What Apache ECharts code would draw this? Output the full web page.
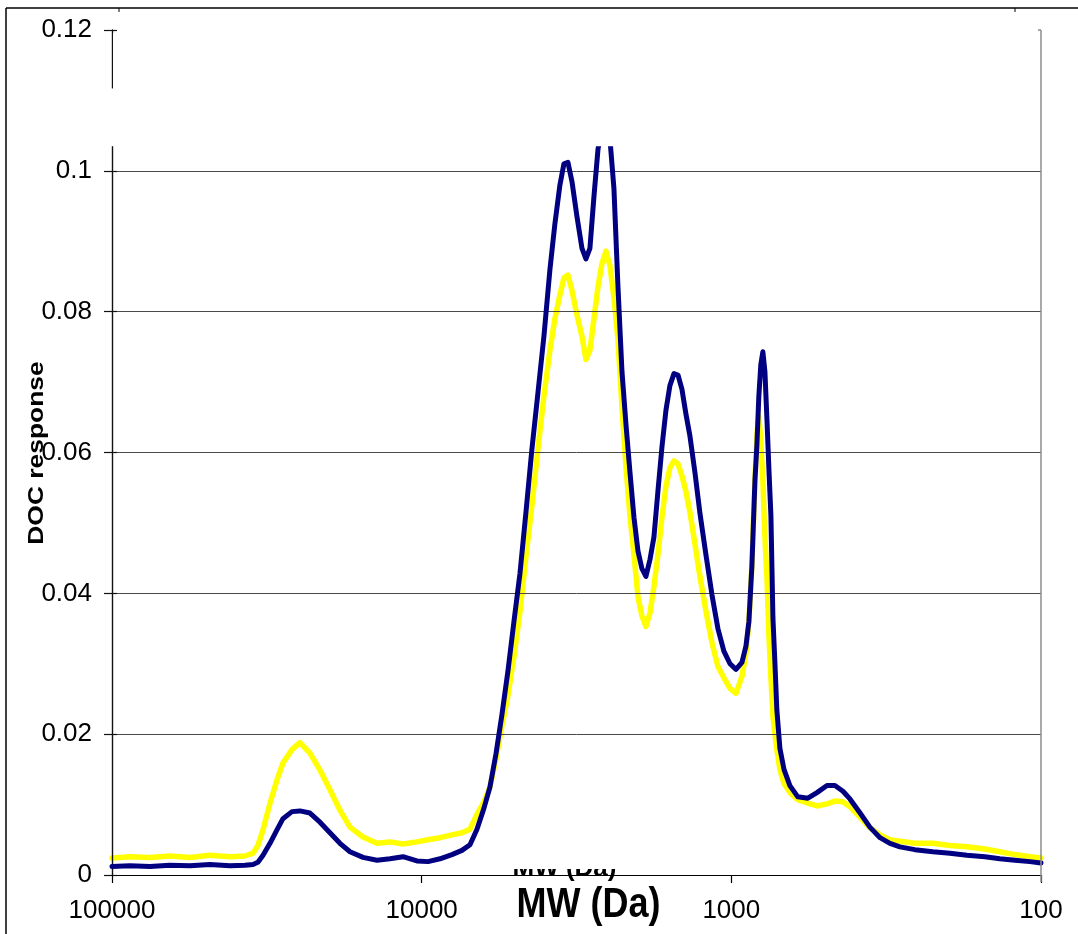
<!DOCTYPE html>
<html>
<head>
<meta charset="utf-8">
<script src="https://cdn.jsdelivr.net/npm/echarts@6/dist/echarts.min.js"></script>
<style>
  html, body { margin: 0; padding: 0; background: #fff; }
  #chart { width: 1078px; height: 934px; }
</style>
</head>
<body>
<div id="chart"></div>
<script>
// Molecular weight (Da) sample positions, high to low
const mw = [
  100000, 87500, 75400, 65000, 56000, 48300, 41600, 37200, 35050, 33790,
  32530, 30890, 29330, 28050, 26230, 24720, 22950, 21300, 19780, 18360,
  17040, 15470, 13940, 12660, 11490, 10360, 9543, 8728, 7986, 7412,
  6982, 6628, 6292, 6018, 5755, 5504, 5264, 5035, 4815, 4605,
  4405, 4212, 4029, 3853, 3713, 3577, 3472, 3370, 3271, 3151,
  3036, 2948, 2862, 2777, 2696, 2617, 2540, 2466, 2394, 2323,
  2255, 2189, 2125, 2063, 2002, 1944, 1887, 1831, 1778, 1726,
  1675, 1626, 1579, 1532, 1487, 1444, 1402, 1360, 1311, 1264,
  1208, 1155, 1105, 1057, 1010, 966, 924, 897, 877.5, 858,
  839, 827, 815, 803, 791, 779, 767, 756, 745, 734,
  723, 713, 697, 676, 647, 610, 566, 529, 491, 463,
  436, 414, 384, 357, 331, 307.5, 285.5, 255.4, 223.4, 196.9,
  173.5, 151.7, 135.8, 121.4, 108.6, 100
];

// DOC response, navy trace
const responseNavy = [
  0.0012, 0.0013, 0.0012, 0.0014, 0.0013, 0.0015, 0.0013, 0.0014, 0.0015, 0.0018,
  0.0028, 0.0045, 0.0064, 0.0080, 0.0090, 0.0091, 0.0088, 0.0075, 0.0060, 0.0045,
  0.0033, 0.0025, 0.0021, 0.0023, 0.0026, 0.0020, 0.0019, 0.0023, 0.0029, 0.0035,
  0.0043, 0.0065, 0.0095, 0.0125, 0.0172, 0.0228, 0.0290, 0.0360, 0.0428, 0.0515,
  0.0605, 0.0685, 0.0765, 0.0860, 0.0925, 0.0980, 0.1010, 0.1012, 0.0985, 0.0935,
  0.0890, 0.0875, 0.0890, 0.0964, 0.1030, 0.1065, 0.1070, 0.1045, 0.0975, 0.0835,
  0.0715, 0.0640, 0.0572, 0.0508, 0.0460, 0.0435, 0.0424, 0.0448, 0.0480, 0.0545,
  0.0608, 0.0660, 0.0695, 0.0712, 0.0710, 0.0690, 0.0655, 0.0623, 0.0572, 0.0515,
  0.0455, 0.0398, 0.0350, 0.0318, 0.0300, 0.0292, 0.0302, 0.0325, 0.0360, 0.0440,
  0.0560, 0.0610, 0.0680, 0.0725, 0.0743, 0.0715, 0.0645, 0.0575, 0.0510, 0.0365,
  0.0300, 0.0235, 0.0180, 0.0150, 0.0127, 0.0111, 0.0109, 0.0117, 0.0127, 0.0127,
  0.0119, 0.0108, 0.0088, 0.0068, 0.0053, 0.0045, 0.0040, 0.0036, 0.0033, 0.0031,
  0.0028, 0.0026, 0.0023, 0.0021, 0.0019, 0.0017
];

// DOC response, yellow trace
const responseYellow = [
  0.0024, 0.0026, 0.0025, 0.0027, 0.0025, 0.0028, 0.0026, 0.0027, 0.0031, 0.0042,
  0.0064, 0.0102, 0.0135, 0.0159, 0.0178, 0.0188, 0.0173, 0.0149, 0.0121, 0.0092,
  0.0068, 0.0054, 0.0045, 0.0047, 0.0044, 0.0047, 0.0050, 0.0053, 0.0057, 0.0060,
  0.0065, 0.0086, 0.0104, 0.0125, 0.0165, 0.0212, 0.0255, 0.0310, 0.0374, 0.0452,
  0.0525, 0.0605, 0.0680, 0.0745, 0.0790, 0.0824, 0.0848, 0.0852, 0.0830, 0.0795,
  0.0765, 0.0732, 0.0745, 0.0790, 0.0835, 0.0868, 0.0886, 0.0865, 0.0820, 0.0760,
  0.0665, 0.0580, 0.0510, 0.0455, 0.0395, 0.0368, 0.0353, 0.0372, 0.0410, 0.0455,
  0.0508, 0.0552, 0.0578, 0.0588, 0.0584, 0.0567, 0.0545, 0.0515, 0.0470, 0.0425,
  0.0375, 0.0330, 0.0296, 0.0280, 0.0265, 0.0258, 0.0282, 0.0315, 0.0360, 0.0440,
  0.0560, 0.0625, 0.0652, 0.0615, 0.0560, 0.0480, 0.0420, 0.0340, 0.0280, 0.0226,
  0.0200, 0.0178, 0.0150, 0.0130, 0.0117, 0.0107, 0.0102, 0.0098, 0.0101, 0.0105,
  0.0104, 0.0097, 0.0082, 0.0067, 0.0057, 0.0050, 0.0048, 0.0045, 0.0045, 0.0042,
  0.0040, 0.0037, 0.0033, 0.0029, 0.0026, 0.0024
];

const yTickLabels = ['0', '0.02', '0.04', '0.06', '0.08', '0.1', '0.12'];
const xTickLabels = { 100000: '100000', 10000: '10000', 1000: '1000', 100: '100' };

const axisTitleX = 'MW (Da)';
const axisTitleY = 'DOC response';

// plotted traces stop at this response; axis line resumes above AXIS_GAP_TOP
const CLIP_TOP = 0.1035;
const AXIS_GAP_TOP = 0.1117;

const FONT = '"Liberation Sans", Arial, sans-serif';

const chart = echarts.init(document.getElementById('chart'), null, { renderer: 'canvas' });

function pairs(ys) { return mw.map((m, i) => [m, ys[i]]); }

chart.setOption({
  backgroundColor: '#ffffff',
  animation: false,
  grid: { left: 112, right: 37, top: 30, bottom: 59, containLabel: false },
  xAxis: {
    type: 'log',
    logBase: 10,
    min: 100,
    max: 100000,
    inverse: true,
    z: 3,
    axisLine: { show: true, lineStyle: { color: '#000', width: 1.2 } },
    axisTick: { show: true, inside: false, length: 8, lineStyle: { color: '#000', width: 1.2 } },
    minorTick: { show: false },
    splitLine: { show: false },
    axisLabel: {
      margin: 23,
      fontSize: 26,
      color: '#000',
      fontFamily: FONT,
      formatter: v => xTickLabels[Math.round(v)] || ''
    }
  },
  yAxis: [
    {
      type: 'value',
      min: 0,
      max: 0.12,
      interval: 0.02,
      z: 3,
      axisLine: { show: true, onZero: false, lineStyle: { color: '#111', width: 1.4 } },
      axisTick: { show: true, inside: false, length: 8, lineStyle: { color: '#111', width: 1.2 } },
      axisLabel: {
        margin: 20,
        fontSize: 26,
        color: '#000',
        fontFamily: FONT,
        formatter: v => yTickLabels[Math.round(v / 0.02)]
      },
      splitLine: {
        show: true,
        showMinLine: false,
        showMaxLine: false,
        lineStyle: { color: '#4a4a4a', width: 1 }
      }
    },
    {
      type: 'value',
      min: 0,
      max: 0.12,
      interval: 0.02,
      position: 'left',
      z: 3,
      axisLine: { show: false },
      axisTick: { show: true, inside: true, length: 5, lineStyle: { color: '#111', width: 1.2 } },
      axisLabel: { show: false },
      splitLine: { show: false }
    }
  ],
  series: [
    {
      name: 'yellow',
      type: 'line',
      data: pairs(responseYellow),
      showSymbol: false,
      smooth: false,
      lineStyle: { color: '#ffff00', width: 5.5, join: 'round', cap: 'round' },
      itemStyle: { color: '#ffff00' },
      z: 2
    },
    {
      name: 'navy',
      type: 'line',
      data: pairs(responseNavy),
      showSymbol: false,
      smooth: false,
      lineStyle: { color: '#000080', width: 5, join: 'round', cap: 'round' },
      itemStyle: { color: '#000080' },
      z: 3
    }
  ]
});

// Decorations positioned from the axes' own scales
const pLeftTop = chart.convertToPixel({ gridIndex: 0 }, [100000, 0.12]);
const pRightBottom = chart.convertToPixel({ gridIndex: 0 }, [100, 0]);
const yClip = chart.convertToPixel({ yAxisIndex: 0 }, CLIP_TOP);
const yGap = chart.convertToPixel({ yAxisIndex: 0 }, AXIS_GAP_TOP);
const xL = pLeftTop[0], yT = pLeftTop[1];
const xR = pRightBottom[0], yB = pRightBottom[1];
const xMid = (xL + xR) / 2;

chart.setOption({
  graphic: [
    // outer chart-area frame (left and top edges)
    { type: 'line', z: 50, shape: { x1: 6, y1: 8, x2: 6, y2: 934 }, style: { stroke: '#000', lineWidth: 1.5 } },
    { type: 'line', z: 50, shape: { x1: 6, y1: 8, x2: 1078, y2: 8 }, style: { stroke: '#000', lineWidth: 1.5 } },
    { type: 'line', z: 50, shape: { x1: 119, y1: 8, x2: 119, y2: 12 }, style: { stroke: '#000', lineWidth: 1 } },
    { type: 'line', z: 50, shape: { x1: 1015, y1: 8, x2: 1015, y2: 12 }, style: { stroke: '#000', lineWidth: 1 } },
    // mask over the plot top: traces are cut off above CLIP_TOP
    { type: 'rect', z: 100, shape: { x: xL + 1, y: yT + 3, width: xR - xL - 2, height: yClip - yT - 3 }, style: { fill: '#fff' } },
    // break in the value axis line
    { type: 'rect', z: 100, shape: { x: xL - 3, y: yGap, width: 6, height: yClip - yGap }, style: { fill: '#fff' } },
    // plot-area right border
    { type: 'line', z: 101, shape: { x1: xR, y1: yT, x2: xR, y2: yB + 7 }, style: { stroke: '#8c8c8c', lineWidth: 1.5 } },
    { type: 'line', z: 101, shape: { x1: xR - 3, y1: yT, x2: xR, y2: yT }, style: { stroke: '#8c8c8c', lineWidth: 1.5 } },
    // smaller duplicate axis title, partly hidden behind the plot edge
    {
      type: 'text', z: 0, x: xMid - 12, y: yB + 7,
      style: { text: axisTitleX, font: 'bold 26px ' + FONT, fill: '#000', align: 'center', verticalAlign: 'bottom' }
    },
    { type: 'rect', z: 1, shape: { x: xMid - 80, y: yB - 30, width: 160, height: 24 }, style: { fill: '#fff' } },
    // axis titles
    {
      type: 'text', z: 60, x: xMid + 12, y: 905, scaleY: 1.18,
      style: { text: axisTitleX, font: 'bold 36px ' + FONT, fill: '#000', align: 'center', verticalAlign: 'middle' }
    },
    {
      type: 'text', z: 60, x: 37, y: 453, rotation: Math.PI / 2, scaleX: 1.2,
      style: { text: axisTitleY, font: 'bold 22px ' + FONT, fill: '#000', align: 'center', verticalAlign: 'middle' }
    }
  ]
});
</script>
</body>
</html>
